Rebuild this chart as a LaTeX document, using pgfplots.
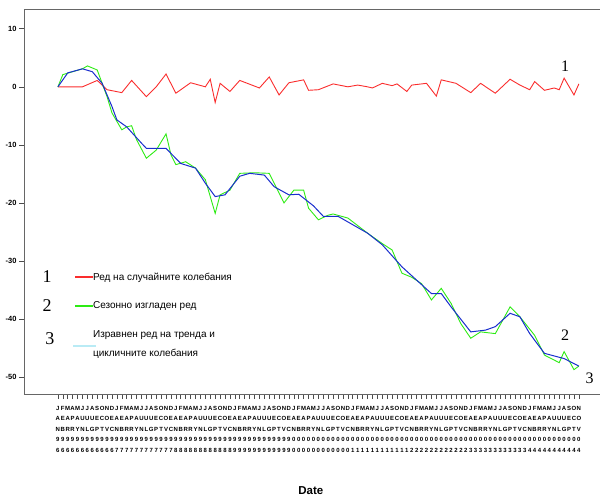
\documentclass[border=0pt]{standalone}
\usepackage{fontspec}
\setmainfont{Liberation Sans}
\newfontfamily\numfont{Liberation Serif}
\usepackage{pgfplots}
\pgfplotsset{compat=1.18}
\definecolor{rred}{RGB}{250,45,45}
\definecolor{ggreen}{RGB}{45,235,20}
\definecolor{bblue}{RGB}{25,45,205}
\definecolor{lcyan}{RGB}{185,235,245}
\newcommand\setmonth[1]{\ifcase#1 \def\mA{J}\def\mB{A}\def\mC{N}\or\def\mA{F}\def\mB{E}\def\mC{B}\or\def\mA{M}\def\mB{A}\def\mC{R}\or\def\mA{A}\def\mB{P}\def\mC{R}\or\def\mA{M}\def\mB{A}\def\mC{Y}\or\def\mA{J}\def\mB{U}\def\mC{N}\or\def\mA{J}\def\mB{U}\def\mC{L}\or\def\mA{A}\def\mB{U}\def\mC{G}\or\def\mA{S}\def\mB{E}\def\mC{P}\or\def\mA{O}\def\mB{C}\def\mC{T}\or\def\mA{N}\def\mB{O}\def\mC{V}\or\def\mA{D}\def\mB{E}\def\mC{C}\fi}
\begin{document}
\begin{tikzpicture}
\useasboundingbox (0,0) rectangle (602pt,499pt);
\begin{axis}[
  at={(24pt,105pt)}, anchor=south west,
  width=576pt, height=385pt, scale only axis,
  xmin=-6.9, xmax=110.3, ymin=-52.9, ymax=13.4,
  axis x line=box, axis y line=left,
  axis line style={-, black!60, line width=0.8pt},
  clip mode=individual,
  tick align=outside,
  ytick={-50,-40,-30,-20,-10,0,10},
  ytick pos=left, xtick pos=left,
  ytick style={black!70, line width=0.6pt},
  xtick style={black!70, line width=0.6pt},
  major tick length=5pt,
  /pgf/number format/assume math mode=true,
  yticklabel style={font=\fontsize{7.5}{8}\selectfont\bfseries, xshift=1pt},
  xtick={0,...,106},
  xticklabel={\pgfmathtruncatemacro{\mm}{mod(\ticknum,12)}\pgfmathtruncatemacro{\yy}{mod(96+floor(\ticknum/12),100)}\pgfmathtruncatemacro{\ya}{floor(\yy/10)}\pgfmathtruncatemacro{\yb}{mod(\yy,10)}\setmonth{\mm}\edef\lab{\mA\noexpand\\\mB\noexpand\\\mC\noexpand\\\ya\noexpand\\\yb}\lab},
  xticklabel style={align=center, font=\fontsize{6}{10.5}\selectfont\bfseries, anchor=north, inner sep=0pt, yshift=-7pt},
  xlabel={Date},
  xlabel style={at={(axis description cs:0.498,-0.252)}, anchor=center, font=\fontsize{11.5}{12}\selectfont\bfseries},
  legend style={at={(axis description cs:0.0798,0.322)}, anchor=north west, draw=none, fill=none,
    font=\fontsize{10}{19.5}\selectfont, row sep=19pt,
    /tikz/every odd column/.append style={column sep=-3pt},
    nodes={inner sep=0.5pt, text=black}, cells={anchor=west, align=left}},
]
\addlegendimage{legend image code/.code={\color{rred}\fill[rred] (0pt,-0.5pt) rectangle (17pt,0.5pt);}}
\addlegendentry{Ред на случайните колебания}
\addlegendimage{legend image code/.code={\color{ggreen}\fill[ggreen] (0pt,-0.5pt) rectangle (17pt,0.5pt);}}
\addlegendentry{Сезонно изгладен ред}
\addlegendimage{legend image code/.code={\color{lcyan}\fill[lcyan] (-2pt,-2.6pt) rectangle (20pt,-1.4pt);}}
\addlegendentry{Изравнен ред на тренда и\\цикличните колебания}
\addplot[color=rred, line width=0.9pt, forget plot] coordinates {
(0,0) (5,0) (8,1.1) (10,-0.5) (13,-1) (15,1.1) (18,-1.7) (20,0) (22,2.2) (24,-1.1)
(27,0.7) (30,0) (31,1.3) (32,-2.7) (33,0.6) (35,-0.8) (37,1.1) (41,-0.2) (43,1.7)
(45,-1.4) (47,0.7) (50,1.2) (51,-0.6) (53,-0.5) (56,0.5) (59,0) (61,0.3) (63,0)
(64,-0.2) (66,0.6) (68,0.2) (69,0.5) (71,-0.8) (72,0.3) (75,0.6) (77,-1.6) (78,1.2)
(81,0.6) (84,-1) (86,0.6) (89,-1.1) (92,1.3) (94,0.3) (96,-0.5) (97,0.9) (99,-0.6)
(101,-0.2) (102,-0.5) (103,1.5) (105,-1.4) (106,0.5)};
\addplot[color=ggreen, line width=0.9pt, forget plot] coordinates {
(0,0) (1,2.1) (5,3.1) (6,3.6) (8,2.9) (10,-1.7) (11,-4.5) (13,-7.4) (14,-6.9) (15,-6.7)
(16,-9.1) (18,-12.3) (20,-10.9) (22,-8.1) (23,-11.7) (24,-13.4) (26,-12.9) (28,-14)
(30,-16) (32,-21.8) (33,-18.6) (35,-17.8) (37,-14.9) (40,-14.8) (43,-14.9) (46,-20)
(48,-17.8) (50,-17.8) (51,-20.9) (53,-22.9) (55,-22.1) (56,-21.9) (59,-22.6) (63,-25.2)
(66,-27) (68,-28.1) (70,-32.1) (72,-32.8) (74,-33.9) (76,-36.7) (78,-34.7) (80,-37.3)
(82,-40.8) (84,-43.3) (86,-42.2) (89,-42.5) (92,-37.9) (94,-39.6) (97,-42.8) (99,-46.2)
(102,-47.5) (103,-45.6) (105,-48.7) (106,-48.1)};
\addplot[color=bblue, line width=1pt, forget plot] coordinates {
(0,0) (2,2.4) (5,3.1) (7,2.6) (9,0.6) (11,-3.4) (12,-5.7) (14,-6.9) (17,-9.7) (18,-10.6)
(20,-10.6) (22,-10.6) (25,-13.2) (28,-14) (30,-16.6) (32,-18.9) (34,-18.6) (37,-15.4)
(39,-14.9) (42,-15.2) (44,-17.2) (47,-18.6) (49,-18.5) (52,-20.5) (54,-22.3) (57,-22.3)
(63,-25.2) (66,-27.2) (70,-31) (73,-33.3) (76,-35.6) (78,-35.6) (80,-37.9) (84,-42.2)
(87,-41.9) (89,-41.3) (92,-39) (94,-39.6) (96,-42.5) (99,-45.9) (103,-46.8) (106,-48.1)};
\node[font=\numfont\fontsize{18}{20}\selectfont] at (axis description cs:0.040,0.306) {1};
\node[font=\numfont\fontsize{18}{20}\selectfont] at (axis description cs:0.040,0.231) {2};
\node[font=\numfont\fontsize{18}{20}\selectfont] at (axis description cs:0.045,0.143) {3};
\node[font=\numfont\fontsize{16}{18}\selectfont] at (axis cs:103.2,3.5) {1};
\node[font=\numfont\fontsize{16}{18}\selectfont] at (axis cs:103.2,-42.8) {2};
\node[font=\numfont\fontsize{16}{18}\selectfont] at (axis cs:108.2,-50.2) {3};
\end{axis}
\end{tikzpicture}
\end{document}
